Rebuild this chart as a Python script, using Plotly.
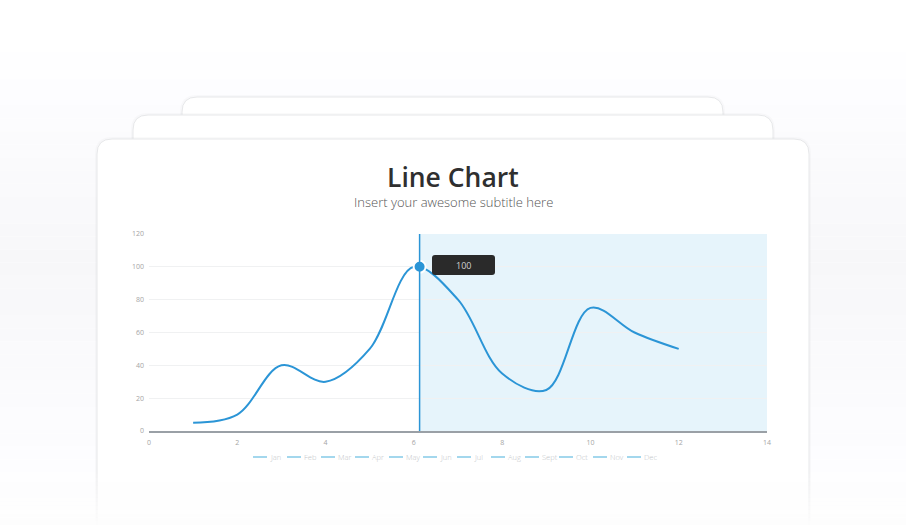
import plotly.graph_objects as go

# ---- data ----
months = ["Jan", "Feb", "Mar", "Apr", "May", "Jun", "Jul", "Aug", "Sept", "Oct", "Nov", "Dec"]
x_vals = [1, 2, 3, 4, 5, 6, 7, 8, 9, 10, 11, 12]
y_vals = [5, 10, 40, 30, 50, 100, 80, 35, 25, 75, 60, 50]
x_ticks = [0, 2, 4, 6, 8, 10, 12, 14]
y_ticks = [0, 20, 40, 60, 80, 100, 120]
hover_index = 5
hover_label = "100"
title_text = "Line Chart"
subtitle_text = "Insert your awesome subtitle here"

# ---- layout helpers ----
W, H = 906, 525
X_MIN, X_MAX = 0, 14
Y_MIN, Y_MAX = 0, 120
hover_x = 6.13
BLUE = "#2b95d6"
FONT = "Open Sans"


def fx(p):
    return p / W


def fy(p):
    return 1 - p / H


def rounded_path(l, t, r, b, rad, bottom_round=True):
    pts = []
    pts.append(f"M {fx(l)},{fy(t + rad)}")
    pts.append(f"Q {fx(l)},{fy(t)} {fx(l + rad)},{fy(t)}")
    pts.append(f"L {fx(r - rad)},{fy(t)}")
    pts.append(f"Q {fx(r)},{fy(t)} {fx(r)},{fy(t + rad)}")
    if bottom_round:
        pts.append(f"L {fx(r)},{fy(b - rad)}")
        pts.append(f"Q {fx(r)},{fy(b)} {fx(r - rad)},{fy(b)}")
        pts.append(f"L {fx(l + rad)},{fy(b)}")
        pts.append(f"Q {fx(l)},{fy(b)} {fx(l)},{fy(b - rad)}")
    else:
        pts.append(f"L {fx(r)},{fy(b)}")
        pts.append(f"L {fx(l)},{fy(b)}")
    pts.append("Z")
    return " ".join(pts)


shapes = []
# page background gradient (bands)
n_bands = 40
for i in range(n_bands):
    t0 = i * H / n_bands
    t1 = (i + 1) * H / n_bands
    mid = (t0 + t1) / 2
    if mid < 260:
        k = min(1.0, max(0.0, (mid - 40) / 220))
    else:
        k = max(0.0, 1 - (mid - 260) / 265)
    g = int(round(255 - 8 * k))
    col = f"rgb({g},{g},{min(255, g + 2)})"
    shapes.append(dict(type="rect", xref="paper", yref="paper", x0=0, x1=1,
                       y0=fy(t1), y1=fy(t0), fillcolor=col, line=dict(width=0),
                       layer="below"))

# stacked cards
for (l, t, r) in [(182, 97, 723), (133, 115, 773), (97, 139, 809)]:
    shapes.append(dict(type="path", xref="paper", yref="paper",
                       path=rounded_path(l - 2, t - 2, r + 2, 600, 17, False),
                       fillcolor="rgba(0,0,0,0.02)", line=dict(width=0), layer="below"))
    shapes.append(dict(type="path", xref="paper", yref="paper",
                       path=rounded_path(l, t, r, 600, 15, False),
                       fillcolor="#ffffff", line=dict(color="#e7e8ea", width=1), layer="below"))

# highlighted region after hover position
shapes.append(dict(type="rect", xref="x", yref="y", x0=hover_x, x1=X_MAX, y0=Y_MIN, y1=Y_MAX,
                   fillcolor="#e6f4fb", line=dict(width=0), layer="below"))
# crosshair line
shapes.append(dict(type="line", xref="x", yref="y", x0=hover_x, x1=hover_x, y0=Y_MIN, y1=Y_MAX,
                   line=dict(color=BLUE, width=1.5), layer="above"))

# tooltip box
shapes.append(dict(type="path", xref="paper", yref="paper",
                   path=rounded_path(432, 255, 495, 275, 3, True),
                   fillcolor="#2a2a2a", line=dict(width=0), layer="above"))

# bottom fade
n_fade = 14
for i in range(n_fade):
    t0 = 470 + i * (H - 470) / n_fade
    t1 = 470 + (i + 1) * (H - 470) / n_fade
    a = 0.9 * (i + 1) / n_fade
    shapes.append(dict(type="rect", xref="paper", yref="paper", x0=0, x1=1,
                       y0=fy(t1), y1=fy(t0), fillcolor=f"rgba(253,253,253,{a:.3f})",
                       line=dict(width=0), layer="above"))

annotations = [
    dict(text=title_text, xref="paper", yref="paper", x=fx(453), y=fy(177),
         showarrow=False, xanchor="center", yanchor="middle",
         font=dict(family=FONT, size=26.5, color="#2f2f2f", weight=600)),
    dict(text=subtitle_text, xref="paper", yref="paper", x=fx(453), y=fy(201.5),
         showarrow=False, xanchor="center", yanchor="middle",
         font=dict(family=FONT, size=13, color="#555555", weight=300)),
    dict(text=hover_label, xref="paper", yref="paper", x=fx(463.5), y=fy(265),
         showarrow=False, xanchor="center", yanchor="middle",
         font=dict(family=FONT, size=9, color="#d0d0d0")),
]

# manual legend
LEG_Y = 457
for i, m in enumerate(months):
    x0 = 253 + 34 * i
    shapes.append(dict(type="line", xref="paper", yref="paper", x0=fx(x0), x1=fx(x0 + 14),
                       y0=fy(LEG_Y), y1=fy(LEG_Y), line=dict(color="#8ccde9", width=1.6),
                       layer="above"))
    annotations.append(dict(text=m, xref="paper", yref="paper", x=fx(x0 + 15), y=fy(LEG_Y),
                            showarrow=False, xanchor="left", yanchor="middle",
                            font=dict(family=FONT, size=7.5, color="#c3c6c9", weight=300)))

fig = go.Figure()
fig.add_trace(go.Scatter(x=x_vals, y=y_vals, mode="lines",
                         line=dict(color=BLUE, width=2, shape="spline", smoothing=1.0),
                         showlegend=False, hoverinfo="skip"))
fig.add_trace(go.Scatter(x=[hover_x], y=[y_vals[hover_index]], mode="markers",
                         marker=dict(size=12, color=BLUE, line=dict(color="white", width=2)),
                         showlegend=False, hoverinfo="skip"))

fig.update_layout(
    autosize=True,
    margin=dict(l=0, r=0, t=0, b=0),
    paper_bgcolor="#ffffff",
    plot_bgcolor="rgba(0,0,0,0)",
    showlegend=False,
    shapes=shapes,
    annotations=annotations,
    xaxis=dict(domain=[fx(149), fx(767)], range=[X_MIN, X_MAX], tickvals=x_ticks,
               showgrid=False, zeroline=False, showline=True, linecolor="#9aa0a6", linewidth=1.5,
               ticks="", tickfont=dict(family=FONT, size=7, color="#a5a5a5"), ticklabelstandoff=4,
               fixedrange=True, automargin=False),
    yaxis=dict(domain=[fy(431), fy(234)], range=[Y_MIN, Y_MAX], tickvals=y_ticks,
               showgrid=True, gridcolor="#f0f1f2", gridwidth=1, zeroline=False, showline=False,
               ticks="", tickfont=dict(family=FONT, size=7, color="#a5a5a5"), ticklabelstandoff=4,
               fixedrange=True, automargin=False),
)

fig.write_html("out.html", config={"displayModeBar": False, "responsive": True},
               default_width="100vw", default_height="100vh",
               post_script="document.body.style.margin='0';document.body.style.overflow='hidden';")
